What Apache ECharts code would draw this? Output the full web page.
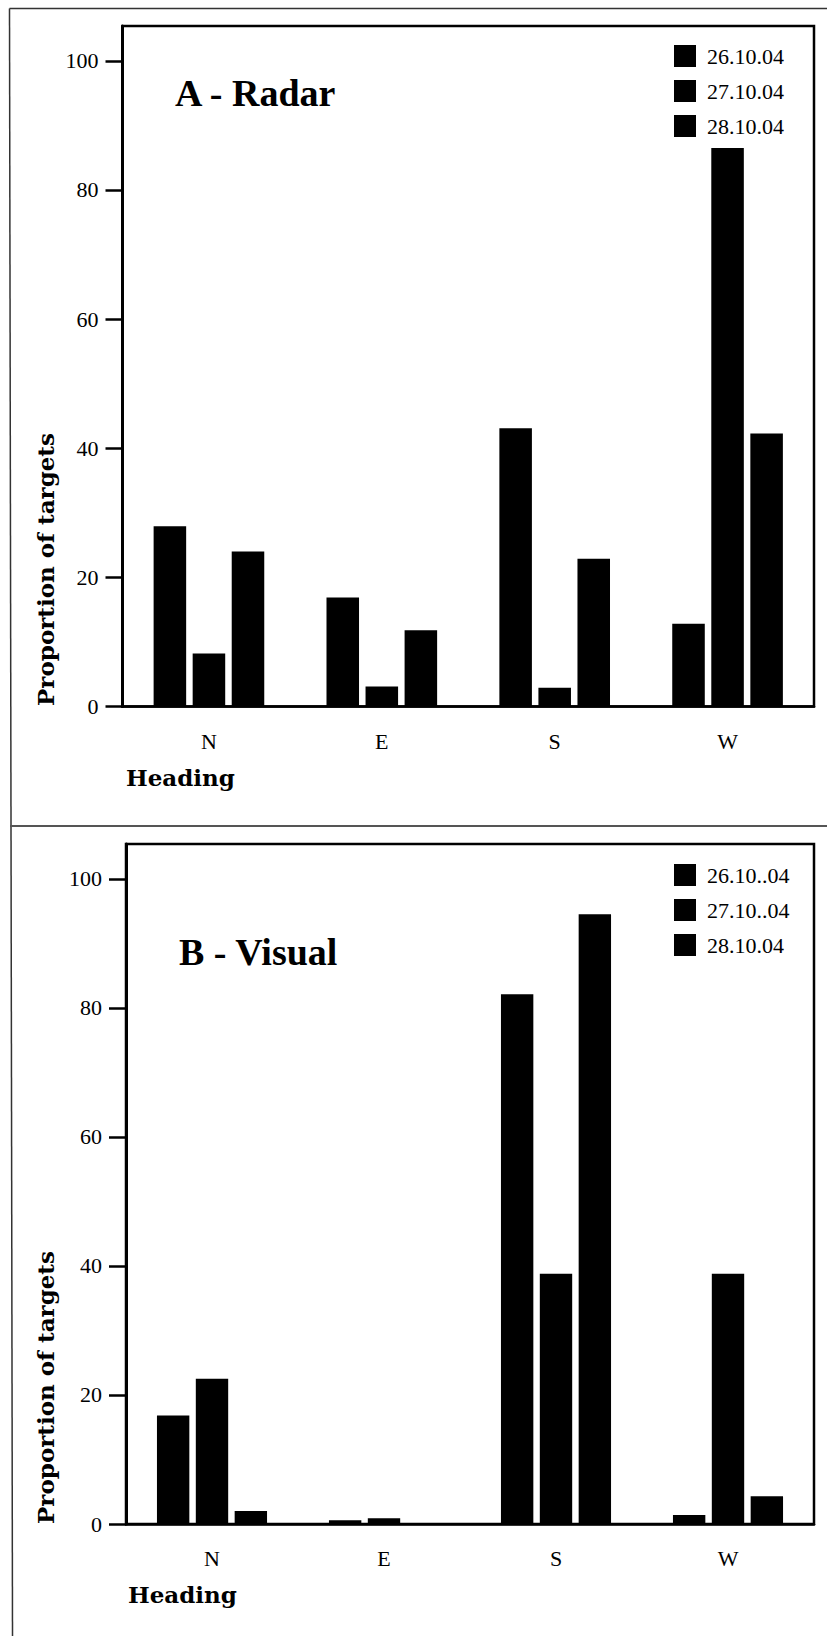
<!DOCTYPE html>
<html>
<head>
<meta charset="utf-8">
<script src="https://cdn.jsdelivr.net/npm/echarts@6/dist/echarts.min.js"></script>
<style>
html,body{margin:0;padding:0;background:#fff;}
#chart{width:827px;height:1636px;}
</style>
</head>
<body>
<div id="chart"></div>
<script>
// ---- data ----
const categories = ['N', 'E', 'S', 'W'];
const yTicks = [0, 20, 40, 60, 80, 100];

const radarNames = ['26.10.04', '27.10.04', '28.10.04'];
const radar26 = [27.9, 16.9, 43.1, 12.8];
const radar27 = [8.2, 3.1, 2.9, 86.5];
const radar28 = [24.0, 11.8, 22.9, 42.3];

const visualNames = ['26.10..04', '27.10..04', '28.10.04'];
const visual26 = [16.8, 0.6, 82.1, 1.4];
const visual27 = [22.5, 0.9, 38.8, 38.8];
const visual28 = [2.0, 0, 94.5, 4.3];

const panelTitles = ['A - Radar', 'B - Visual'];
const yTitle = 'Proportion of targets';
const xTitle = 'Heading';

// ---- chart ----
const serif = '"Liberation Serif", "Times New Roman", serif';
const boldSerif = '"DejaVu Serif", serif';

function makeXAxis(gridIndex) {
  return {
    type: 'category', gridIndex: gridIndex, data: categories,
    axisLine: { lineStyle: { color: '#000', width: 2.5 } },
    axisTick: { alignWithLabel: true, length: 16, lineStyle: { color: '#000', width: 2.5 } },
    axisLabel: { color: '#000', fontFamily: serif, fontSize: 22, margin: 23.5 }
  };
}
function makeYAxis(gridIndex, max) {
  return {
    type: 'value', gridIndex: gridIndex, min: 0, max: max, interval: 20,
    axisLine: { show: true, lineStyle: { color: '#000', width: 3 } },
    axisTick: { show: true, customValues: yTicks, length: 17, lineStyle: { color: '#000', width: 2.5 } },
    axisLabel: { customValues: yTicks, color: '#000', fontFamily: serif, fontSize: 22, margin: 24 },
    splitLine: { show: false }
  };
}
function makeSeries(name, data, idx) {
  return {
    type: 'bar', name: name, data: data, xAxisIndex: idx, yAxisIndex: idx,
    itemStyle: { color: '#000' },
    barGap: '20%', barCategoryGap: '36%'
  };
}
function makeLegend(names, top) {
  return {
    data: names, orient: 'vertical', left: 669, top: top,
    itemWidth: 22, itemHeight: 22, itemGap: 13, icon: 'rect',
    selectedMode: false,
    textStyle: { color: '#000', fontFamily: serif, fontSize: 22, padding: [0, 0, 0, 6] }
  };
}

const chart = echarts.init(document.getElementById('chart'), null, { renderer: 'svg' });
chart.setOption({
  animation: false,
  backgroundColor: '#fff',
  grid: [
    { left: 122.5, right: 13, top: 26, bottom: 929.5, show: true, borderColor: '#000', borderWidth: 2.5, containLabel: false },
    { left: 126, right: 13, top: 844, bottom: 112, show: true, borderColor: '#000', borderWidth: 2.5, containLabel: false }
  ],
  xAxis: [makeXAxis(0), makeXAxis(1)],
  yAxis: [makeYAxis(0, 105.4), makeYAxis(1, 105.4)],
  legend: [makeLegend(radarNames, 40), makeLegend(visualNames, 859)],
  series: [
    makeSeries(radarNames[0], radar26, 0),
    makeSeries(radarNames[1], radar27, 0),
    makeSeries(radarNames[2], radar28, 0),
    makeSeries(visualNames[0], visual26, 1),
    makeSeries(visualNames[1], visual27, 1),
    makeSeries(visualNames[2], visual28, 1)
  ],
  graphic: [
    { type: 'line', shape: { x1: 9.5, y1: 8.5, x2: 827, y2: 8.5 }, style: { stroke: '#333', lineWidth: 1.5 } },
    { type: 'line', shape: { x1: 9.5, y1: 8.5, x2: 12.5, y2: 1636 }, style: { stroke: '#333', lineWidth: 1.5 } },
    { type: 'line', shape: { x1: 10, y1: 826, x2: 827, y2: 826 }, style: { stroke: '#555', lineWidth: 2 } },
    { type: 'text', x: 175, y: 93, style: { text: panelTitles[0], fill: '#000', font: 'bold 38px ' + serif, textAlign: 'left', textVerticalAlign: 'middle' } },
    { type: 'text', x: 179, y: 951.5, style: { text: panelTitles[1], fill: '#000', font: 'bold 38px ' + serif, textAlign: 'left', textVerticalAlign: 'middle' } },
    { type: 'text', x: 45, y: 569.5, rotation: Math.PI / 2, style: { text: yTitle, fill: '#000', font: 'bold 23px ' + boldSerif, textAlign: 'center', textVerticalAlign: 'middle' } },
    { type: 'text', x: 45, y: 1387.5, rotation: Math.PI / 2, style: { text: yTitle, fill: '#000', font: 'bold 23px ' + boldSerif, textAlign: 'center', textVerticalAlign: 'middle' } },
    { type: 'text', x: 126, y: 777, style: { text: xTitle, fill: '#000', font: 'bold 23px ' + boldSerif, textAlign: 'left', textVerticalAlign: 'middle' } },
    { type: 'text', x: 128, y: 1594, style: { text: xTitle, fill: '#000', font: 'bold 23px ' + boldSerif, textAlign: 'left', textVerticalAlign: 'middle' } }
  ]
});
</script>
</body>
</html>
